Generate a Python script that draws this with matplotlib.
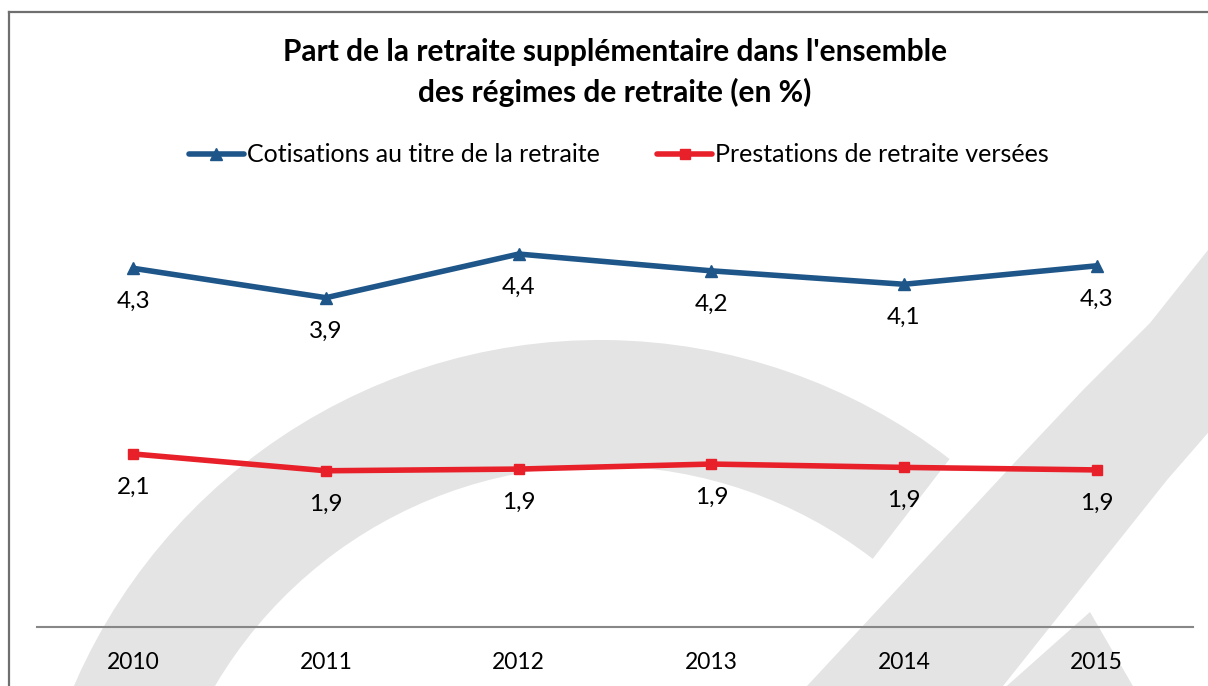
import numpy as np
import matplotlib
matplotlib.use('Agg')
import matplotlib.pyplot as plt
from matplotlib.patches import Wedge, Polygon

# data
years = ['2010', '2011', '2012', '2013', '2014', '2015']
cotisations = [4.27, 3.92, 4.44, 4.24, 4.08, 4.30]
prestations = [2.06, 1.86, 1.88, 1.94, 1.90, 1.87]

series_names = ['Cotisations au titre de la retraite', 'Prestations de retraite versées']
title_lines = ["Part de la retraite supplémentaire dans l'ensemble",
               "des régimes de retraite (en %)"]

BLUE = '#1F5689'
RED = '#E8202A'
GREY_MARK = '#e4e4e4'
FRAME = '#6f6f6f'

plt.rcParams['font.family'] = ['Lato', 'DejaVu Sans']

W, H = 1208, 686
fig = plt.figure(figsize=(W / 100, H / 100), dpi=100)


def up(y):
    # image pixel row -> y measured from the bottom
    return H - y


# background layer in pixels: watermark + frame
bg = fig.add_axes([0, 0, 1, 1], zorder=0)
bg.set_xlim(0, W)
bg.set_ylim(0, H)
bg.axis('off')

bg.add_patch(Wedge((600, up(913)), 573, 52.4, 200, width=126, color=GREY_MARK, lw=0))
band = [(1260, up(185)), (1208, up(250)), (1150, up(323)), (1083, up(390)),
        (1017, up(460)), (807, up(686)), (760, up(740)), (955, up(740)),
        (1003, up(686)), (1167, up(480)), (1260, up(373))]
bg.add_patch(Polygon(band, closed=True, color=GREY_MARK, lw=0))
bg.add_patch(Polygon([(1090, up(612)), (991, up(700)), (1141, up(700))],
                     closed=True, color=GREY_MARK, lw=0))

bg.plot([9, 9], [up(12), -5], color=FRAME, lw=1.6)
bg.plot([9, W + 5], [up(12), up(12)], color=FRAME, lw=1.6)

# chart
ax = fig.add_axes([37 / W, (H - 627) / H, (1193 - 37) / W, 420 / H], zorder=1)
ax.patch.set_alpha(0)
x = np.arange(len(years))

ax.plot(x, cotisations, color=BLUE, lw=4, marker='^', ms=8,
        solid_capstyle='round', solid_joinstyle='round', label=series_names[0])
ax.plot(x, prestations, color=RED, lw=4, marker='s', ms=7,
        solid_capstyle='round', solid_joinstyle='round', label=series_names[1])

for serie in [cotisations, prestations]:
    for i, v in enumerate(serie):
        ax.annotate(f'{v:.1f}'.replace('.', ','), (i, v), xytext=(0, -24),
                    textcoords='offset points', ha='center', va='center',
                    fontsize=17.5, color='black')

ax.set_xlim(-0.5, len(years) - 0.5)
ax.set_ylim(0, 5)
for side in ['top', 'right', 'left']:
    ax.spines[side].set_visible(False)
ax.spines['bottom'].set_color('#878787')
ax.spines['bottom'].set_linewidth(1.5)
ax.set_yticks([])
ax.set_xticks(x, years)
ax.tick_params(axis='x', length=0, pad=18, labelsize=16.5)

fig.legend(loc='center', bbox_to_anchor=(619 / W, 1 - 155 / H), ncol=2,
           frameon=False, fontsize=18, handlelength=2.2, handletextpad=0.12,
           columnspacing=2.3)

fig.text(615 / W, 1 - 52 / H, title_lines[0], ha='center', va='center',
         fontsize=21.5, fontweight='bold')
fig.text(615 / W, 1 - 92 / H, title_lines[1], ha='center', va='center',
         fontsize=21.5, fontweight='bold')

fig.savefig('out.png', dpi=100)
